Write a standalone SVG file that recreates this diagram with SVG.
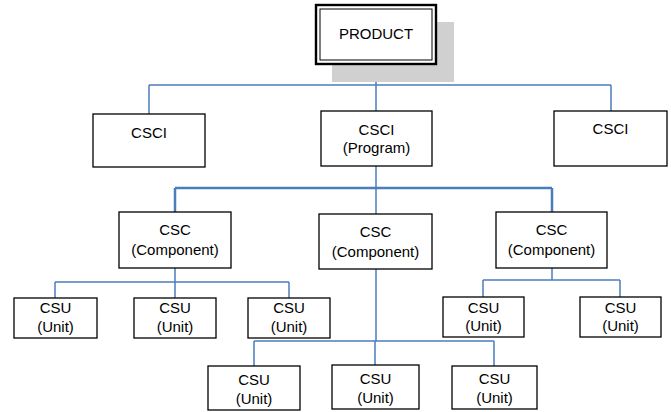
<svg xmlns="http://www.w3.org/2000/svg" width="671" height="412" viewBox="0 0 671 412">
  <style>
    .box { fill: #ffffff; stroke: #000000; stroke-width: 1.3; }
    .lbl { font-family: "Liberation Sans", Arial, sans-serif; font-size: 15px; fill: #000000; text-anchor: middle; }
    .wire { fill: none; stroke: #4a7ebb; stroke-width: 1.5; }
    .wire.heavy { stroke-width: 2.5; }
  </style>
  <rect width="671" height="412" fill="#ffffff"/>

  <!-- connectors -->
  <g id="connectors">
    <path class="wire" d="M376 64 V111 M149 85 H611 M149 85 V114 M611 85 V111"/>
    <path class="wire" d="M376 166 V214"/>
    <path class="wire heavy" d="M175 188 H552 M175 188 V212 M552 188 V212"/>
    <path class="wire" d="M175 268 V282 M55 282 H289 M55 282 V298 M175 282 V298 M289 282 V298"/>
    <path class="wire" d="M376 269 V341 M254 341 H494 M254 341 V366 M375 341 V365 M494 341 V366"/>
    <path class="wire" d="M552 268 V280 M483 280 H620 M483 280 V297 M620 280 V297"/>
  </g>

  <!-- top node with drop shadow and double border -->
  <g id="product">
    <rect x="332" y="22" width="122" height="60" fill="#d0d0d0"/>
    <rect x="316" y="5" width="120" height="59" fill="#ffffff" stroke="#000" stroke-width="2.4"/>
    <rect x="320" y="9" width="112" height="51" fill="none" stroke="#000" stroke-width="1"/>
    <text class="lbl" x="376" y="39">PRODUCT</text>
  </g>

  <g id="csci-left">
    <rect class="box" x="93" y="114" width="112" height="53"/>
    <text class="lbl" x="149" y="138">CSCI</text>
  </g>
  <g id="csci-program">
    <rect class="box" x="321" y="111" width="111" height="55"/>
    <text class="lbl" x="376.5" y="135">CSCI</text>
    <text class="lbl" x="376.5" y="153">(Program)</text>
  </g>
  <g id="csci-right">
    <rect class="box" x="554" y="111" width="113" height="55"/>
    <text class="lbl" x="610.5" y="134">CSCI</text>
  </g>

  <g id="csc-left">
    <rect class="box" x="119" y="212" width="112" height="56"/>
    <text class="lbl" x="175" y="235">CSC</text>
    <text class="lbl" x="175" y="255">(Component)</text>
  </g>
  <g id="csc-middle">
    <rect class="box" x="319" y="214" width="113" height="55"/>
    <text class="lbl" x="375.5" y="237">CSC</text>
    <text class="lbl" x="375.5" y="257">(Component)</text>
  </g>
  <g id="csc-right">
    <rect class="box" x="496" y="212" width="111" height="56"/>
    <text class="lbl" x="551.5" y="235">CSC</text>
    <text class="lbl" x="551.5" y="255">(Component)</text>
  </g>

  <g id="csu-1">
    <rect class="box" x="14" y="298" width="83" height="40"/>
    <text class="lbl" x="55.5" y="313">CSU</text>
    <text class="lbl" x="55.5" y="332">(Unit)</text>
  </g>
  <g id="csu-2">
    <rect class="box" x="134" y="298" width="82" height="40"/>
    <text class="lbl" x="175" y="313">CSU</text>
    <text class="lbl" x="175" y="332">(Unit)</text>
  </g>
  <g id="csu-3">
    <rect class="box" x="248" y="298" width="82" height="40"/>
    <text class="lbl" x="289" y="313">CSU</text>
    <text class="lbl" x="289" y="332">(Unit)</text>
  </g>
  <g id="csu-4">
    <rect class="box" x="443" y="297" width="81" height="40"/>
    <text class="lbl" x="483.5" y="313">CSU</text>
    <text class="lbl" x="483.5" y="331">(Unit)</text>
  </g>
  <g id="csu-5">
    <rect class="box" x="580" y="297" width="81" height="40"/>
    <text class="lbl" x="620.5" y="313">CSU</text>
    <text class="lbl" x="620.5" y="331">(Unit)</text>
  </g>
  <g id="csu-6">
    <rect class="box" x="208" y="366" width="92" height="44"/>
    <text class="lbl" x="254" y="385">CSU</text>
    <text class="lbl" x="254" y="404">(Unit)</text>
  </g>
  <g id="csu-7">
    <rect class="box" x="332" y="365" width="87" height="44"/>
    <text class="lbl" x="375.5" y="384">CSU</text>
    <text class="lbl" x="375.5" y="403">(Unit)</text>
  </g>
  <g id="csu-8">
    <rect class="box" x="452" y="366" width="85" height="43"/>
    <text class="lbl" x="494.5" y="384">CSU</text>
    <text class="lbl" x="494.5" y="403">(Unit)</text>
  </g>
</svg>
